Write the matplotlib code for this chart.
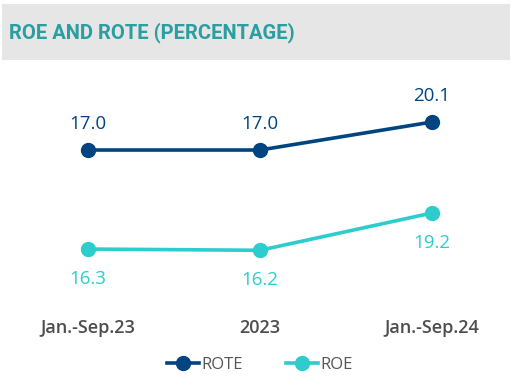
import matplotlib
matplotlib.use('Agg')
import matplotlib.pyplot as plt
from matplotlib.patches import Rectangle
from matplotlib.lines import Line2D

# data
categories = ['Jan.-Sep.23', '2023', 'Jan.-Sep.24']
rote = [17.0, 17.0, 20.1]
roe = [16.3, 16.2, 19.2]

NAVY = '#004481'
AQUA = '#2dcccd'
TITLE = '#2a9ea1'

W, H = 522, 385
fig = plt.figure(figsize=(W / 100, H / 100), dpi=100)
fig.patch.set_facecolor('white')

# grey title band
fig.patches.append(Rectangle((2 / W, 1 - 60 / H), 508 / W, 56 / H,
                             transform=fig.transFigure, facecolor='#e6e6e6',
                             edgecolor='none', zorder=0))
fig.text(9 / W, 1 - 33 / H, 'ROE AND ROTE (PERCENTAGE)', family='Roboto',
         fontweight='bold', fontsize=14.5, color=TITLE, va='center', ha='left')

# plot area: y 80..300 px, two scales like the original
ax = fig.add_axes([0, 1 - 300 / H, 1, 220 / H])
ax2 = ax.twinx()
for a in (ax, ax2):
    a.set_axis_off()
    a.set_xlim(-88 / 172, (522 - 88) / 172)
ax.set_ylim(0.4, 24.75)
ax2.set_ylim(12.2, 29.9)

x = list(range(len(categories)))
ax.plot(x, rote, color=NAVY, lw=2.6, marker='o', ms=10, zorder=3)
ax2.plot(x, roe, color=AQUA, lw=2.6, marker='o', ms=10, zorder=3)

for xi, v in zip(x, rote):
    ax.annotate(f'{v:.1f}', (xi, v), xytext=(0, 19), textcoords='offset points',
                ha='center', va='center', fontsize=13.5, color=NAVY, family='Open Sans')
for xi, v in zip(x, roe):
    ax2.annotate(f'{v:.1f}', (xi, v), xytext=(0, -21.5), textcoords='offset points',
                 ha='center', va='center', fontsize=13.5, color=AQUA, family='Open Sans')

for xi, c in zip(x, categories):
    fig.text((88 + 172 * xi) / W, 1 - 328 / H, c, ha='center', va='center',
             fontsize=13, fontweight='semibold', color='#4d4d4d', family='Open Sans')

handles = [Line2D([], [], color=NAVY, lw=2.6, marker='o', ms=10),
           Line2D([], [], color=AQUA, lw=2.6, marker='o', ms=10)]
fig.legend(handles, ['ROTE', 'ROE'], loc='center', bbox_to_anchor=(260 / W, 1 - 365 / H),
           ncol=2, frameon=False, handlelength=1.9, handletextpad=0.15, columnspacing=2.6,
           labelcolor='#555555', prop={'family': 'Open Sans', 'size': 12})

fig.savefig('out.png', dpi=100)
